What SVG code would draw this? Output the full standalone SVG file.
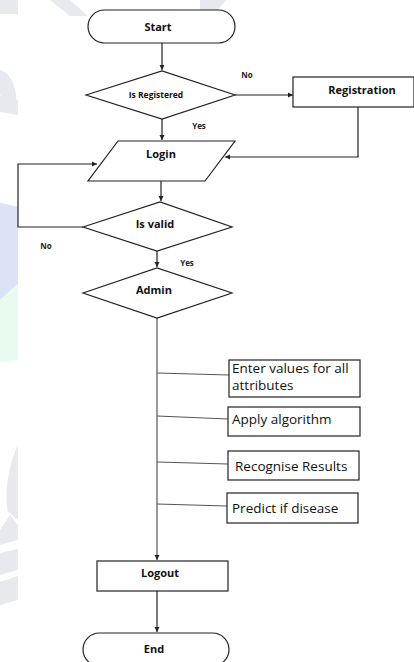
<svg xmlns="http://www.w3.org/2000/svg" width="414" height="662" viewBox="0 0 414 662">
<style>
.shape{fill:#fff;stroke:#222;stroke-width:1.2}
.box{fill:#fff;stroke:#222;stroke-width:1.2}
.conn{fill:none;stroke:#222;stroke-width:1.2}
.conn2{fill:none;stroke:#555;stroke-width:1.2}
.b{font-family:"Open Sans","Liberation Sans",sans-serif;font-weight:bold;fill:#111;text-anchor:middle}
.n{font-family:"Open Sans","Liberation Sans",sans-serif;fill:#111;font-size:13.5px}
.lbl{font-family:"Open Sans","Liberation Sans",sans-serif;font-weight:bold;fill:#222;font-size:8px}
.wm{stroke:none}
</style>
<defs>
<marker id="arr" markerWidth="6" markerHeight="6" refX="5" refY="3" orient="auto" markerUnits="userSpaceOnUse">
<path d="M0,0.5 L5,3 L0,5.5 z" fill="#222"/>
</marker>
</defs>
<rect width="414" height="662" fill="#fff"/>
<g id="watermark">
<path class="wm" d="M0,0 L18,0 L18,14 L0,14 z" fill="#e6e9ee"/>
<path class="wm" d="M50,0 L70,0 L88,16 L70,16 z" fill="#e6e9ee"/>
<path class="wm" d="M0,70 C8,72 14,80 16,95 L18,113 L10,110 C6,100 2,96 0,95 z" fill="#e6e9ee"/>
<path class="wm" d="M0,96 L18,100 L18,115 L0,112 z" fill="#e6e9ee"/>
<path class="wm" d="M200,0 L226,0 L215,13 L200,13 z" fill="#e6e9ee"/>
<path class="wm" d="M0,203 C6,204 12,205 18,207 L18,284 L0,300 z" fill="#dde3f7"/>
<path class="wm" d="M0,300 L18,284 L18,360 C12,361 6,362 0,362 z" fill="#e9fbef"/>
<path class="wm" d="M18,445 L18,520 L8,512 C4,495 8,465 18,445 z" fill="#e6e9ee"/>
<path class="wm" d="M0,530 L10,515 L18,525 L18,540 L0,545 z" fill="#e6e9ee"/>
<path class="wm" d="M0,553 L18,549 L18,570 L0,575 z" fill="#e6e9ee"/>
<path class="wm" d="M0,582 L18,576 L18,600 L0,605 z" fill="#e6e9ee"/>
</g>
<g id="connectors">
<path class="conn" d="M162,43 V70" marker-end="url(#arr)"/>
<path class="conn" d="M235,95 H293" marker-end="url(#arr)"/>
<path class="conn" d="M162,119 V140" marker-end="url(#arr)"/>
<path class="conn" d="M358,107 V157 H225" marker-end="url(#arr)"/>
<path class="conn" d="M161,181 V201" marker-end="url(#arr)"/>
<path class="conn" d="M83,227 H18 V164 H97" marker-end="url(#arr)"/>
<path class="conn" d="M157,251 V267" marker-end="url(#arr)"/>
<path class="conn2" d="M157,318 V560" marker-end="url(#arr)"/>
<path class="conn2" d="M157,373 L229,375"/>
<path class="conn2" d="M157,416 L228,419"/>
<path class="conn2" d="M157,462 L228,464"/>
<path class="conn2" d="M157,504 L227,506"/>
<path class="conn" d="M157,591 V632" marker-end="url(#arr)"/>
<text class="lbl" x="247" y="78" text-anchor="middle">No</text>
<text class="lbl" x="199" y="129" text-anchor="middle">Yes</text>
<text class="lbl" x="46" y="249" text-anchor="middle">No</text>
<text class="lbl" x="187" y="266" text-anchor="middle">Yes</text>
</g>
<g id="start">
<rect class="shape" x="88" y="10" width="147" height="33" rx="16.5"/>
<text class="b" x="158" y="31" font-size="11">Start</text>
</g>
<g id="is-registered">
<polygon class="shape" points="86,95 162,71 235,95 162,119"/>
<text class="b" x="156" y="98" font-size="8.5">Is Registered</text>
</g>
<g id="registration">
<rect class="box" x="293" y="77" width="121" height="30"/>
<text class="b" x="362" y="94" font-size="11">Registration</text>
</g>
<g id="login">
<polygon class="shape" points="118,141 235,141 205,181 88,181"/>
<text class="b" x="161" y="158" font-size="11">Login</text>
</g>
<g id="is-valid">
<polygon class="shape" points="83,227 160,202 232,227 157,251"/>
<text class="b" x="155" y="228" font-size="11">Is valid</text>
</g>
<g id="admin">
<polygon class="shape" points="83,293 157,268 232,293 157,318"/>
<text class="b" x="154" y="294" font-size="11">Admin</text>
</g>
<g id="enter-values">
<rect class="box" x="229" y="360" width="131" height="37"/>
<text class="n" x="232" y="373">Enter values for all</text>
<text class="n" x="232" y="390">attributes</text>
</g>
<g id="apply-algorithm">
<rect class="box" x="228" y="407" width="132" height="29"/>
<text class="n" x="232" y="424">Apply algorithm</text>
</g>
<g id="recognise-results">
<rect class="box" x="228" y="451" width="131" height="29"/>
<text class="n" x="235" y="471">Recognise Results</text>
</g>
<g id="predict">
<rect class="box" x="227" y="493" width="131" height="30"/>
<text class="n" x="232" y="513">Predict if disease</text>
</g>
<g id="logout">
<rect class="box" x="97" y="561" width="131" height="30"/>
<text class="b" x="160" y="577" font-size="11">Logout</text>
</g>
<g id="end">
<rect class="shape" x="83" y="633" width="146" height="33" rx="16.5"/>
<text class="b" x="154" y="653" font-size="11">End</text>
</g>
</svg>
